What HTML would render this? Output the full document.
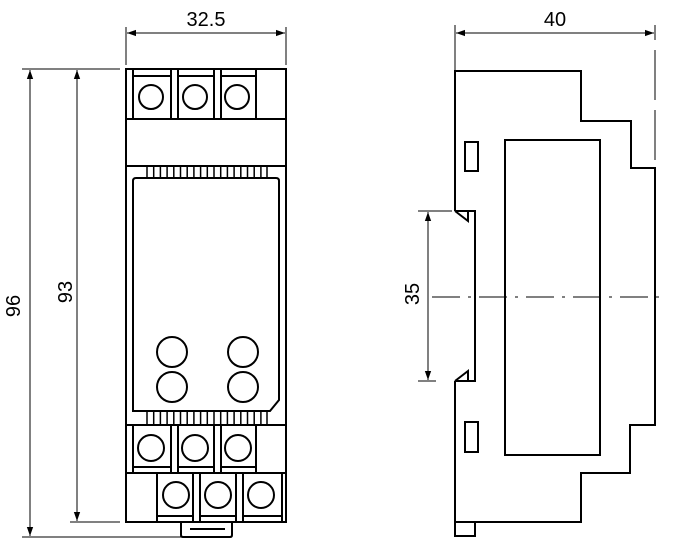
<!DOCTYPE html>
<html><head><style>body{margin:0;background:#fff}svg{display:block}</style></head><body>
<svg width="673" height="554" viewBox="0 0 673 554" xmlns="http://www.w3.org/2000/svg" font-family="Liberation Sans, sans-serif">
<defs>
<marker id="a" viewBox="0 0 10 10" refX="10" refY="5" markerWidth="9" markerHeight="9" orient="auto-start-reverse" markerUnits="userSpaceOnUse"><path d="M0,1.5 L10,5 L0,8.5z" fill="#000"/></marker>
</defs>
<g stroke="#000" fill="none" stroke-width="1">
<!-- left dims -->
<line x1="126" y1="27" x2="126" y2="65"/><line x1="286" y1="27" x2="286" y2="65"/>
<line x1="127" y1="33" x2="285" y2="33" marker-start="url(#a)" marker-end="url(#a)"/>
<line x1="22" y1="69" x2="120" y2="69"/><line x1="70" y1="522" x2="120" y2="522"/><line x1="22" y1="537" x2="181" y2="537"/>
<line x1="30" y1="70" x2="30" y2="536" marker-start="url(#a)" marker-end="url(#a)"/>
<line x1="77" y1="70" x2="77" y2="521" marker-start="url(#a)" marker-end="url(#a)"/>
<!-- right dims -->
<line x1="455" y1="25" x2="455" y2="70"/>
<line x1="655" y1="25" x2="655" y2="40"/><line x1="655" y1="50" x2="655" y2="100" /><line x1="655" y1="110" x2="655" y2="160"/>
<line x1="456" y1="33" x2="654" y2="33" marker-start="url(#a)" marker-end="url(#a)"/>
<line x1="418" y1="211" x2="452" y2="211"/><line x1="418" y1="381" x2="436" y2="381"/>
<line x1="428" y1="212" x2="428" y2="380" marker-start="url(#a)" marker-end="url(#a)"/>
<line x1="432" y1="297" x2="665" y2="297" stroke-dasharray="28,8,3,8"/>
</g>
<g stroke="#000" fill="none" stroke-width="2">
<!-- left view -->
<rect x="126" y="69" width="160" height="453"/>
<line x1="126" y1="119" x2="286" y2="119"/>
<line x1="126" y1="166" x2="286" y2="166"/>
<line x1="126" y1="425" x2="286" y2="425"/>
<line x1="126" y1="473" x2="286" y2="473"/>
<g>
<rect x="133" y="69" width="38" height="50"/><rect x="178" y="69" width="36" height="50"/><rect x="221" y="69" width="35" height="50"/>
<line x1="133" y1="76" x2="171" y2="76"/><line x1="178" y1="76" x2="214" y2="76"/><line x1="221" y1="76" x2="256" y2="76"/>
<circle cx="151" cy="97" r="12"/><circle cx="195" cy="97" r="12"/><circle cx="237" cy="97" r="12"/>
</g>
<path d="M133,411 V181 Q133,178 136,178 H276 Q279,178 279,181 V400 L270,411 Z"/>
<circle cx="172" cy="352" r="15"/><circle cx="243" cy="352" r="15"/><circle cx="172" cy="387" r="15"/><circle cx="243" cy="387" r="15"/>
<g>
<rect x="133" y="425" width="38" height="48"/><rect x="178" y="425" width="36" height="48"/><rect x="221" y="425" width="35" height="48"/>
<line x1="133" y1="467" x2="171" y2="467"/><line x1="178" y1="467" x2="214" y2="467"/><line x1="221" y1="467" x2="256" y2="467"/>
<circle cx="151" cy="448" r="13"/><circle cx="195" cy="448" r="13"/><circle cx="238" cy="448" r="13"/>
</g>
<g>
<rect x="157" y="473" width="36" height="49"/><rect x="200" y="473" width="36" height="49"/><rect x="243" y="473" width="39" height="49"/>
<line x1="157" y1="516" x2="193" y2="516"/><line x1="200" y1="516" x2="236" y2="516"/><line x1="243" y1="516" x2="282" y2="516"/>
<circle cx="176" cy="495" r="13"/><circle cx="218" cy="495" r="13"/><circle cx="261" cy="495" r="13"/>
</g>
<path d="M181,522 V535 Q181,537 183,537 H230 Q232,537 232,535 V522"/>
<line x1="190" y1="529" x2="225" y2="529"/>
<!-- right view -->
<path d="M455,211 V71 H581 V121 H631 V168 H655 V425 H630 V473 H581 V522 H455 V381"/>
<path d="M455,211 H475 V381 H455 M455,211 L468,221 V211 M455,381 L468,371 V381"/>
<path d="M455,381 V536 H475 V522"/>
<rect x="465" y="142" width="13" height="29"/>
<rect x="465" y="422" width="13" height="30"/>
<rect x="505" y="140" width="95" height="315"/>
</g>
<g stroke="#000" stroke-width="1.5">
<path d="M147,166 V178 M153.7,166 V178 M160.4,166 V178 M167.1,166 V178 M173.8,166 V178 M180.5,166 V178 M187.2,166 V178 M193.9,166 V178 M200.6,166 V178 M207.3,166 V178 M214,166 V178 M220.7,166 V178 M227.4,166 V178 M234.1,166 V178 M240.8,166 V178 M247.5,166 V178 M254.2,166 V178 M260.9,166 V178 M267,166 V178"/>
<path d="M147,411 V425 M153.7,411 V425 M160.4,411 V425 M167.1,411 V425 M173.8,411 V425 M180.5,411 V425 M187.2,411 V425 M193.9,411 V425 M200.6,411 V425 M207.3,411 V425 M214,411 V425 M220.7,411 V425 M227.4,411 V425 M234.1,411 V425 M240.8,411 V425 M247.5,411 V425 M254.2,411 V425 M260.9,411 V425 M267,411 V425"/>
</g>
<g font-size="20" fill="#000" text-anchor="middle">
<text x="206" y="26">32.5</text>
<text x="555" y="26">40</text>
<text transform="translate(20,306) rotate(-90)">96</text>
<text transform="translate(72,292) rotate(-90)">93</text>
<text transform="translate(419,294) rotate(-90)">35</text>
</g>
</svg>
</body></html>
